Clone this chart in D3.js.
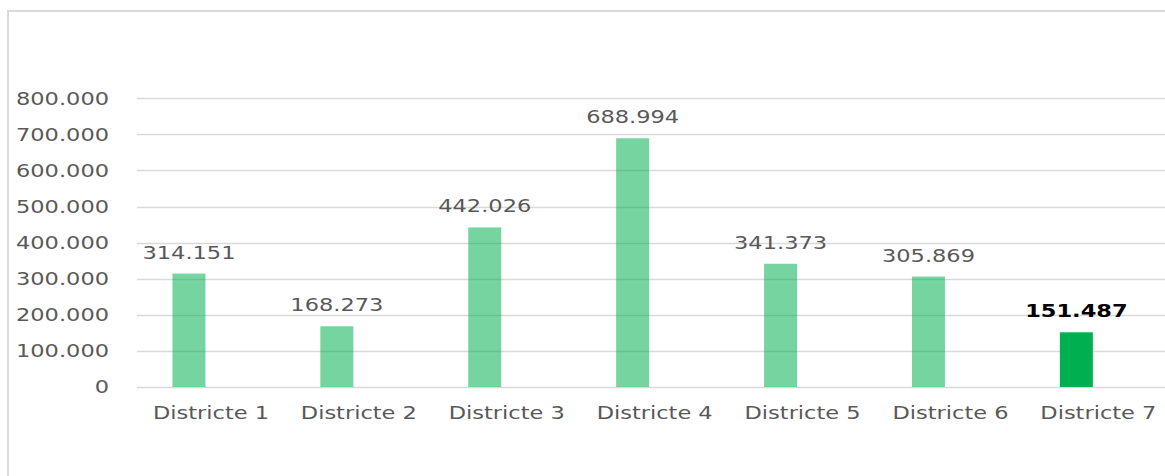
<!DOCTYPE html>
<html><head><meta charset="utf-8">
<script src="https://cdn.jsdelivr.net/npm/d3@7"></script>
<style>body{margin:0;background:#fff}svg{display:block}</style>
</head><body>
<script>
const categories = ["Districte 1","Districte 2","Districte 3","Districte 4","Districte 5","Districte 6","Districte 7"];
const values = [314151, 168273, 442026, 688994, 341373, 305869, 151487];
const valueLabels = ["314.151","168.273","442.026","688.994","341.373","305.869","151.487"];
const highlight = [false,false,false,false,false,false,true];
const yTicks = [0,100000,200000,300000,400000,500000,600000,700000,800000];
const yTickLabels = ["0","100.000","200.000","300.000","400.000","500.000","600.000","700.000","800.000"];

const W = 1165, H = 476;
const svg = d3.select("body").append("svg").attr("width", W).attr("height", H);
svg.append("rect").attr("width", W).attr("height", H).attr("fill", "#fff");
// chart border
svg.append("rect").attr("x", 8).attr("y", 11).attr("width", W + 20).attr("height", H + 20)
  .attr("fill", "none").attr("stroke", "#d9d9d9").attr("stroke-width", 2);

const x = d3.scaleBand().domain(categories).range([137, 137 + 7 * 147.9]);
const y = d3.scaleLinear().domain([0, 800000]).range([387, 98.2]);
const barW = 33, barOffset = -22;
const font = "'DejaVu Sans', Verdana, sans-serif";
const sx = 1.25;

// gridlines
svg.append("g").selectAll("line").data(yTicks).join("line")
  .attr("x1", 137).attr("x2", W)
  .attr("y1", d => Math.round(y(d)) + 0.5).attr("y2", d => Math.round(y(d)) + 0.5)
  .attr("stroke", "#d9d9d9").attr("stroke-width", 1.3);

// y labels
svg.append("g").selectAll("text").data(yTicks).join("text")
  .attr("transform", d => `translate(109,${y(d)}) scale(${sx},1)`)
  .attr("text-anchor", "end").attr("dy", "0.36em")
  .attr("font-family", font).attr("font-size", 18).attr("fill", "#595959")
  .text((d, i) => yTickLabels[i]);

// bars
svg.append("g").selectAll("rect").data(values).join("rect")
  .attr("x", (d, i) => x(categories[i]) + x.bandwidth() / 2 + barOffset - barW / 2)
  .attr("width", barW)
  .attr("y", d => y(d))
  .attr("height", d => y(0) - y(d))
  .attr("fill", "#00B050")
  .attr("fill-opacity", (d, i) => highlight[i] ? 1 : 0.54);

// value labels
svg.append("g").selectAll("text").data(values).join("text")
  .attr("transform", (d, i) => `translate(${x(categories[i]) + x.bandwidth() / 2 + barOffset},${y(d) - 15}) scale(${sx},1)`)
  .attr("text-anchor", "middle")
  .attr("font-family", font).attr("font-size", 18)
  .attr("font-weight", (d, i) => highlight[i] ? "bold" : "normal")
  .attr("fill", (d, i) => highlight[i] ? "#000" : "#595959")
  .text((d, i) => valueLabels[i]);

// x labels
svg.append("g").selectAll("text").data(categories).join("text")
  .attr("transform", d => `translate(${x(d) + x.bandwidth() / 2},${413}) scale(${sx},1)`)
  .attr("text-anchor", "middle").attr("dy", "0.36em")
  .attr("font-family", font).attr("font-size", 18).attr("fill", "#595959")
  .text(d => d);
</script>
</body></html>
